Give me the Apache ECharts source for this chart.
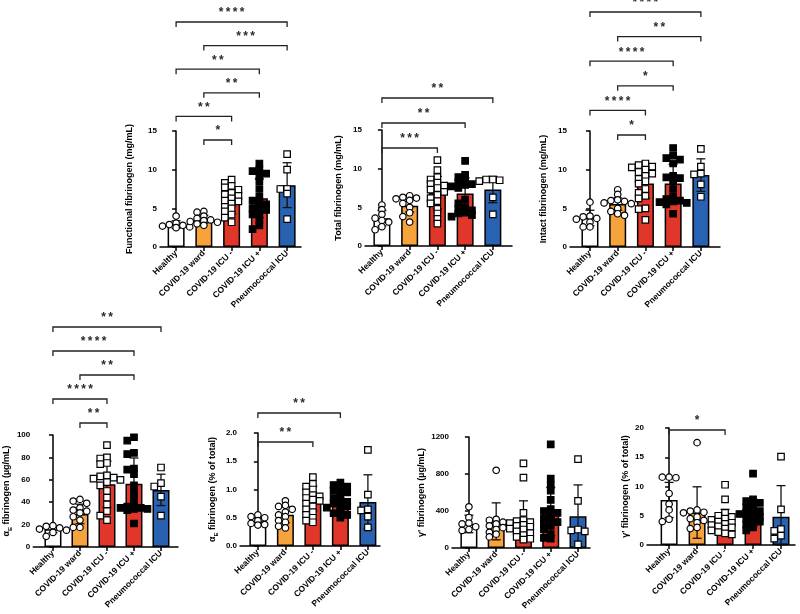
<!DOCTYPE html>
<html><head><meta charset="utf-8">
<script src="https://cdn.jsdelivr.net/npm/echarts@6/dist/echarts.min.js"></script>
<style>html,body{margin:0;padding:0;background:#fff}#c{width:800px;height:614px}</style>
</head><body><div id="c"></div>
<script>
const categories = ['Healthy','COVID-19 ward','COVID-19 ICU -','COVID-19 ICU +','Pneumococcal ICU'];

// Functional fibrinogen (mg/mL)
const fnMean = [2.9, 3.6, 5.9, 6.3, 8.0];
const fnSD = [0.5, 0.5, 1.6, 2.5, 2.9];
const fnHealthy = [4.0, 3.1, 2.9, 2.8, 2.7, 2.6, 2.5];
const fnWard = [4.6, 4.5, 4.0, 3.7, 3.5, 3.4, 3.3, 3.2, 3.0, 2.8];
const fnIcuNeg = [8.7, 8.3, 7.9, 7.7, 7.4, 7.0, 6.8, 6.6, 6.3, 6.0, 5.9, 5.6, 5.2, 5.0, 4.6, 4.2, 3.8, 3.2];
const fnIcuPos = [10.8, 10.0, 9.8, 9.5, 9.2, 8.5, 7.5, 6.5, 6.0, 5.8, 5.5, 5.2, 5.0, 4.8, 4.5, 4.2, 3.5, 2.8, 2.3];
const fnPneumo = [12.0, 10.0, 7.5, 7.5, 6.9, 3.6];
const fnBrackets = [[1,2,'*'],[0,2,'**'],[1,3,'**'],[0,3,'**'],[1,4,'***'],[0,4,'****']];
const fnTicks = [0, 5, 10, 15];

// Total fibrinogen (mg/mL)
const ttMean = [3.6, 5.2, 6.9, 6.8, 7.3];
const ttSD = [1.0, 0.8, 2.1, 2.0, 1.7];
const ttHealthy = [5.3, 4.7, 4.1, 3.6, 3.3, 3.1, 2.5, 2.1];
const ttWard = [6.5, 6.3, 6.2, 6.1, 5.9, 5.5, 5.0, 4.3, 3.8, 3.1];
const ttIcuNeg = [11.1, 9.8, 8.9, 8.6, 8.2, 8.0, 7.8, 7.5, 7.3, 7.0, 6.6, 6.2, 5.8, 5.5, 4.8, 4.2, 3.5, 2.9];
const ttIcuPos = [11.0, 9.2, 8.9, 8.5, 8.2, 8.0, 7.9, 7.7, 7.5, 6.0, 5.5, 5.0, 4.8, 4.6, 4.3, 4.2, 4.0, 3.8];
const ttPneumo = [8.6, 8.6, 8.5, 8.4, 6.3, 4.1];
const ttBrackets = [[0,2,'***'],[0,3,'**'],[0,4,'**']];
const ttTicks = [0, 5, 10, 15];

// Intact fibrinogen (mg/mL)
const itMean = [3.75, 5.55, 8.2, 8.2, 9.3];
const itSD = [1.0, 0.8, 1.9, 2.5, 2.1];
const itHealthy = [5.8, 4.0, 3.9, 3.7, 3.6, 3.2, 2.6, 2.6];
const itWard = [7.4, 6.8, 6.1, 6.0, 5.9, 5.7, 5.6, 5.0, 4.6, 4.3, 4.1];
const itIcuNeg = [10.8, 10.6, 10.4, 10.3, 10.0, 9.7, 9.5, 9.2, 8.8, 8.5, 8.2, 7.5, 7.0, 6.6, 6.3, 5.0, 4.9, 3.5];
const itIcuPos = [12.8, 11.8, 11.5, 11.3, 10.8, 9.2, 9.0, 8.9, 8.5, 7.5, 6.5, 6.2, 6.0, 5.9, 5.8, 5.7, 5.5, 4.3];
const itPneumo = [12.7, 10.4, 9.5, 9.4, 8.1, 6.5];
const itBrackets = [[1,2,'*'],[0,2,'****'],[1,3,'*'],[0,3,'****'],[1,4,'**'],[0,4,'****']];
const itTicks = [0, 5, 10, 15];

// alphaE fibrinogen (ug/mL)
const aeMean = [15.8, 29.5, 56, 56.5, 51];
const aeSD = [3, 8.7, 20.5, 23, 14];
const aeHealthy = [19, 18.5, 17, 16, 15, 13, 9.5];
const aeWard = [42.5, 41, 39, 35, 33, 32, 30.5, 27, 24, 17.5, 17.5];
const aeIcuNeg = [91, 80, 79, 75, 74, 64, 63, 62, 61, 60, 58, 55, 50, 44, 38, 32, 28, 24];
const aeIcuPos = [98, 95, 84, 83, 70, 69, 65, 55, 50, 44, 38, 36, 35, 35, 34, 34, 33, 21];
const aePneumo = [71, 57, 54, 45, 28];
const aeBrackets = [[1,2,'**'],[0,2,'****'],[1,3,'**'],[0,3,'****'],[0,4,'**']];
const aeTicks = [0, 20, 40, 60, 80, 100];

// alphaE fibrinogen (% of total)
const aepMean = [0.44, 0.555, 0.84, 0.81, 0.78];
const aepSD = [0.07, 0.14, 0.22, 0.17, 0.48];
const aepHealthy = [0.55, 0.52, 0.5, 0.45, 0.4, 0.38, 0.37];
const aepWard = [0.8, 0.72, 0.7, 0.65, 0.6, 0.55, 0.52, 0.45, 0.42, 0.35, 0.32];
const aepIcuNeg = [1.22, 1.1, 1.05, 1.0, 0.95, 0.9, 0.88, 0.85, 0.82, 0.8, 0.75, 0.7, 0.65, 0.6, 0.55, 0.5, 0.45, 0.42];
const aepIcuPos = [1.12, 1.08, 1.05, 1.0, 0.98, 0.95, 0.9, 0.85, 0.8, 0.78, 0.75, 0.72, 0.7, 0.68, 0.62, 0.58, 0.55, 0.5];
const aepPneumo = [1.7, 0.91, 0.65, 0.63, 0.52, 0.33];
const aepBrackets = [[0,2,'**'],[0,3,'**']];
const aepTicks = [0, 0.5, 1.0, 1.5, 2.0];

// gamma' fibrinogen (ug/mL)
const gpMean = [260, 288, 300, 396, 342];
const gpSD = [95, 200, 210, 260, 340];
const gpHealthy = [445, 330, 270, 260, 230, 200, 190];
const gpWard = [840, 310, 300, 280, 260, 240, 220, 200, 170, 150, 120];
const gpIcuNeg = [915, 760, 380, 300, 290, 280, 270, 250, 240, 230, 210, 200, 180, 160, 140, 120, 100, 90];
const gpIcuPos = [1120, 750, 680, 620, 520, 420, 400, 380, 350, 320, 300, 280, 260, 240, 200, 150, 110, 100];
const gpPneumo = [960, 510, 200, 190, 180, 40];
const gpBrackets = [];
const gpTicks = [0, 400, 800, 1200];

// gamma' fibrinogen (% of total)
const gppMean = [7.7, 5.55, 4.1, 5.5, 4.85];
const gppSD = [3.0, 4.4, 2.0, 2.3, 5.3];
const gppHealthy = [11.6, 11.6, 11.5, 8.8, 7.0, 6.0, 4.4, 4.0];
const gppWard = [17.5, 6.0, 5.8, 5.6, 5.5, 4.8, 4.5, 4.2, 3.8, 3.0, 2.8];
const gppIcuNeg = [10.3, 7.8, 5.5, 5.0, 4.8, 4.5, 4.3, 4.0, 3.8, 3.6, 3.4, 3.2, 3.0, 2.8, 2.5, 2.2, 2.0, 1.8];
const gppIcuPos = [12.2, 7.8, 7.5, 7.2, 6.8, 6.5, 6.0, 5.8, 5.5, 5.3, 5.0, 4.8, 4.5, 4.2, 4.0, 3.5, 3.0, 2.5];
const gppPneumo = [15.1, 6.1, 2.7, 2.4, 1.6, 1.1];
const gppBrackets = [[0,2,'*']];
const gppTicks = [0, 5, 10, 15, 20];

const panels = [
  {name:'Functional fibrinogen (mg/mL)', mean:fnMean, sd:fnSD, groups:[fnHealthy,fnWard,fnIcuNeg,fnIcuPos,fnPneumo], brackets:fnBrackets, ticks:fnTicks},
  {name:'Total fibrinogen (mg/mL)', mean:ttMean, sd:ttSD, groups:[ttHealthy,ttWard,ttIcuNeg,ttIcuPos,ttPneumo], brackets:ttBrackets, ticks:ttTicks},
  {name:'Intact fibrinogen (mg/mL)', mean:itMean, sd:itSD, groups:[itHealthy,itWard,itIcuNeg,itIcuPos,itPneumo], brackets:itBrackets, ticks:itTicks},
  {name:'α{s|E} fibrinogen (µg/mL)', mean:aeMean, sd:aeSD, groups:[aeHealthy,aeWard,aeIcuNeg,aeIcuPos,aePneumo], brackets:aeBrackets, ticks:aeTicks},
  {name:'α{s|E} fibrinogen (% of total)', mean:aepMean, sd:aepSD, groups:[aepHealthy,aepWard,aepIcuNeg,aepIcuPos,aepPneumo], brackets:aepBrackets, ticks:aepTicks, dec:1},
  {name:"γ' fibrinogen (µg/mL)", mean:gpMean, sd:gpSD, groups:[gpHealthy,gpWard,gpIcuNeg,gpIcuPos,gpPneumo], brackets:gpBrackets, ticks:gpTicks},
  {name:"γ' fibrinogen (% of total)", mean:gppMean, sd:gppSD, groups:[gppHealthy,gppWard,gppIcuNeg,gppIcuPos,gppPneumo], brackets:gppBrackets, ticks:gppTicks}
];

// layout (pixels)
const layout = [
  {left:160, top:131, width:141, height:116, xmin:-0.58, xmax:4.5, nameGap:24, bStart:9, bStep:23.6},
  {left:365, top:130, width:147, height:116, xmin:-0.61, xmax:4.69, nameGap:20, bStart:18, bStep:25},
  {left:570, top:131, width:150, height:116, xmin:-0.72, xmax:4.69, nameGap:20, bStart:4, bStep:24.6},
  {left:32, top:435, width:146, height:112, xmin:-0.73, xmax:4.63, nameGap:18, bStart:-12, bStep:24},
  {left:240, top:433, width:140, height:113, xmin:-0.65, xmax:4.44, nameGap:21, bStart:9, bStep:29},
  {left:452, top:437, width:138, height:111, xmin:-0.62, xmax:4.44, nameGap:13, bStart:0, bStep:24},
  {left:647, top:428, width:148, height:117, xmin:-0.79, xmax:4.5, nameGap:11, bStart:2, bStep:24}
];

const fills = ['#ffffff', '#F7A33D', '#E1372A', '#E1372A', '#2A62B2'];
const markerShape = ['circle','circle','rect','rect','rect'];
const markerFill = ['#ffffff','#ffffff','#ffffff','#000000','#ffffff'];
const FONT = '"Liberation Sans", Arial, Helvetica, sans-serif';

// simple beeswarm: horizontal slot per point, computed in pixels then mapped back to axis units
function swarm(vals, cat, pyu, pxc) {
  const sorted = vals.slice().sort((a,b)=>b-a);
  const placed = [], out = [];
  const DX = 6.8, DY = 4.5;
  const slots = [0, -1, 1, -2, 2];
  sorted.forEach(v => {
    const y = v * pyu;
    let best = null, bestScore = -1;
    for (const s of slots) {
      const off = s * DX;
      let minD = Infinity;
      placed.forEach(p => {
        if (Math.abs(p.x - off) < DX) minD = Math.min(minD, Math.abs(p.y - y));
      });
      if (minD >= DY) { best = off; bestScore = Infinity; break; }
      if (minD > bestScore) { bestScore = minD; best = off; }
    }
    placed.push({x: best, y: y});
    out.push([cat + best / pxc, v]);
  });
  return out;
}

const grid = [], xAxis = [], yAxis = [], series = [];
panels.forEach((p, gi) => {
  const L = layout[gi];
  const yMax = p.ticks[p.ticks.length-1];
  const yInt = p.ticks[1] - p.ticks[0];
  grid.push({left:L.left, top:L.top, width:L.width, height:L.height});
  xAxis.push({
    gridIndex: gi, type:'value', min:L.xmin, max:L.xmax,
    axisLine:{show:true, onZero:false, lineStyle:{color:'#000', width:1.5}},
    axisTick:{show:true, customValues:[0,1,2,3,4], length:4, lineStyle:{color:'#000', width:1.5}},
    axisLabel:{customValues:[0,1,2,3,4], formatter:v => categories[Math.round(v)], rotate:45, margin:5,
      fontSize:8.5, fontWeight:'bold', color:'#000', fontFamily:FONT},
    splitLine:{show:false}
  });
  yAxis.push({
    gridIndex: gi, type:'value', min:0, max:yMax, interval:yInt,
    name:p.name, nameLocation:'middle', nameGap:L.nameGap,
    nameTextStyle:{fontSize:9, fontWeight:'bold', color:'#000', fontFamily:FONT, lineHeight:12,
      rich:{s:{fontSize:6, fontWeight:'bold', color:'#000', fontFamily:FONT, verticalAlign:'bottom', lineHeight:12}}},
    axisLine:{show:true, lineStyle:{color:'#000', width:1.5}},
    axisTick:{show:true, length:4, lineStyle:{color:'#000', width:1.5}},
    axisLabel:{fontSize:8, fontWeight:'bold', color:'#000', margin:3, fontFamily:FONT,
      formatter: v => p.dec ? v.toFixed(p.dec) : String(v)},
    splitLine:{show:false}
  });
  // bars
  series.push({
    type:'bar', xAxisIndex:gi, yAxisIndex:gi, barWidth:17, z:2,
    itemStyle:{borderColor:'#000', borderWidth:1.5},
    data: p.mean.map((m,i) => ({value:[i, m], itemStyle:{color:fills[i]}}))
  });
  // error bars (mean ± SD)
  series.push({
    type:'custom', xAxisIndex:gi, yAxisIndex:gi, z:4,
    data: p.mean.map((m,i) => [i, m, p.sd[i]]),
    renderItem: (params, api) => {
      const i = api.value(0), m = api.value(1), s = api.value(2);
      const top = api.coord([i, m + s]);
      const bot = api.coord([i, Math.max(0, m - s)]);
      const w = 4.5;
      const st = {stroke:'#111', lineWidth:1.3, fill:null};
      return {type:'group', children:[
        {type:'line', shape:{x1:top[0], y1:top[1], x2:bot[0], y2:bot[1]}, style:st},
        {type:'line', shape:{x1:top[0]-w, y1:top[1], x2:top[0]+w, y2:top[1]}, style:st},
        {type:'line', shape:{x1:bot[0]-w, y1:bot[1], x2:bot[0]+w, y2:bot[1]}, style:st}
      ]};
    }
  });
  // individual points
  const pyu = L.height / yMax, pxc = L.width / (L.xmax - L.xmin);
  p.groups.forEach((vals, i) => {
    series.push({
      type:'scatter', xAxisIndex:gi, yAxisIndex:gi, z:5,
      symbol:markerShape[i], symbolSize:6.5,
      itemStyle:{color:markerFill[i], borderColor:'#000', borderWidth:1.2, opacity:1},
      data: swarm(vals, i, pyu, pxc)
    });
  });
  // significance brackets
  if (p.brackets.length) {
    series.push({
      type:'custom', xAxisIndex:gi, yAxisIndex:gi, z:6, clip:false, silent:true,
      data: p.brackets.map((b,k) => [b[0], b[1], k]),
      renderItem: (params, api) => {
        const a = api.value(0), b = api.value(1), k = api.value(2);
        const stars = p.brackets[params.dataIndex][2];
        const x1 = api.coord([a, 0])[0], x2 = api.coord([b, 0])[0];
        const yTop = api.coord([0, yMax])[1];
        const y = yTop + L.bStart - k * L.bStep;
        const st = {stroke:'#222', lineWidth:1.3, fill:null};
        const ch = [
          {type:'polyline', shape:{points:[[x1, y+5],[x1, y],[x2, y],[x2, y+5]]}, style:st}
        ];
        const n = stars.length, gap = 7, xc = (x1+x2)/2;
        for (let j = 0; j < n; j++) {
          ch.push({type:'text', x: xc + (j - (n-1)/2) * gap, y: y - 9,
            style:{text:'*', fill:'#2a2a2a', font:'bold 12px ' + FONT, align:'center', verticalAlign:'middle'}});
        }
        return {type:'group', children:ch};
      }
    });
  }
});

const chart = echarts.init(document.getElementById('c'), null, {renderer:'canvas'});
chart.setOption({backgroundColor:'#fff', animation:false, grid, xAxis, yAxis, series});
</script>
</body></html>
